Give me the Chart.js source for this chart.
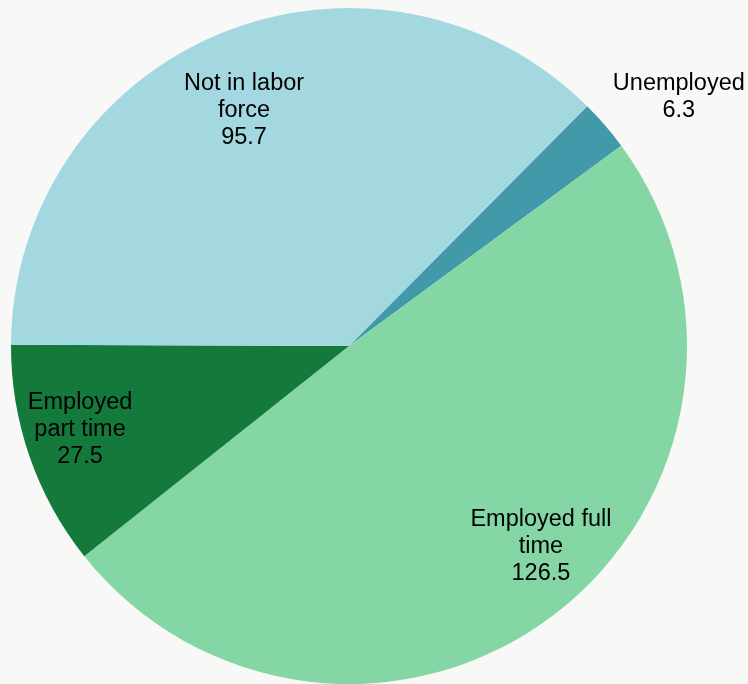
<!DOCTYPE html>
<html>
<head>
<meta charset="utf-8">
<script src="https://cdn.jsdelivr.net/npm/chart.js@4/dist/chart.umd.min.js"></script>
<style>
  html, body { margin: 0; padding: 0; background: #f8f8f7; }
  #wrap { width: 748px; height: 684px; position: relative; }
</style>
</head>
<body>
<div id="wrap"><canvas id="pie" width="748" height="684"></canvas></div>
<script>
// Population by labor status (millions)
const categories = ['Unemployed', 'Employed full time', 'Employed part time', 'Not in labor force'];
const values = [6.3, 126.5, 27.5, 95.7];
// Multi-line slice captions
const labelLines = [
  ['Unemployed'],
  ['Employed full', 'time'],
  ['Employed', 'part time'],
  ['Not in labor', 'force']
];

const sliceColors = ['#4199a9', '#84d7a5', '#137a3b', '#a3d8e1'];
// Caption placement: [fraction of radius, angular shift in degrees from slice middle]
const captionPlacement = [[1.223, 3.7], [0.822, -6.3], [0.833, 1.9], [0.764, -1.5]];

const captionPlugin = {
  id: 'sliceCaptions',
  afterDatasetsDraw(chart) {
    const ctx = chart.ctx;
    const meta = chart.getDatasetMeta(0);
    ctx.save();
    ctx.font = '23.5px "Liberation Sans", Arial, sans-serif';
    ctx.fillStyle = '#000';
    ctx.textAlign = 'center';
    ctx.textBaseline = 'middle';
    const lineH = 27;
    meta.data.forEach((arc, i) => {
      const p = arc.getProps(['x', 'y', 'startAngle', 'endAngle', 'outerRadius'], true);
      const mid = (p.startAngle + p.endAngle) / 2 + captionPlacement[i][1] * Math.PI / 180;
      const r = p.outerRadius * captionPlacement[i][0];
      const cx = p.x + Math.cos(mid) * r;
      const cy = p.y + Math.sin(mid) * r;
      const lines = labelLines[i].concat([String(values[i])]);
      const top = cy - (lines.length - 1) * lineH / 2;
      lines.forEach((t, k) => ctx.fillText(t, cx, top + k * lineH));
    });
    ctx.restore();
  }
};

new Chart(document.getElementById('pie'), {
  type: 'pie',
  data: {
    labels: categories,
    datasets: [{
      data: values,
      backgroundColor: sliceColors,
      borderWidth: 0,
      hoverOffset: 0
    }]
  },
  options: {
    responsive: false,
    animation: false,
    rotation: 44.8,
    layout: { padding: { left: 11, right: 61, top: 8, bottom: 0 } },
    plugins: {
      legend: { display: false },
      tooltip: { enabled: false }
    },
    events: []
  },
  plugins: [captionPlugin]
});
</script>
</body>
</html>
